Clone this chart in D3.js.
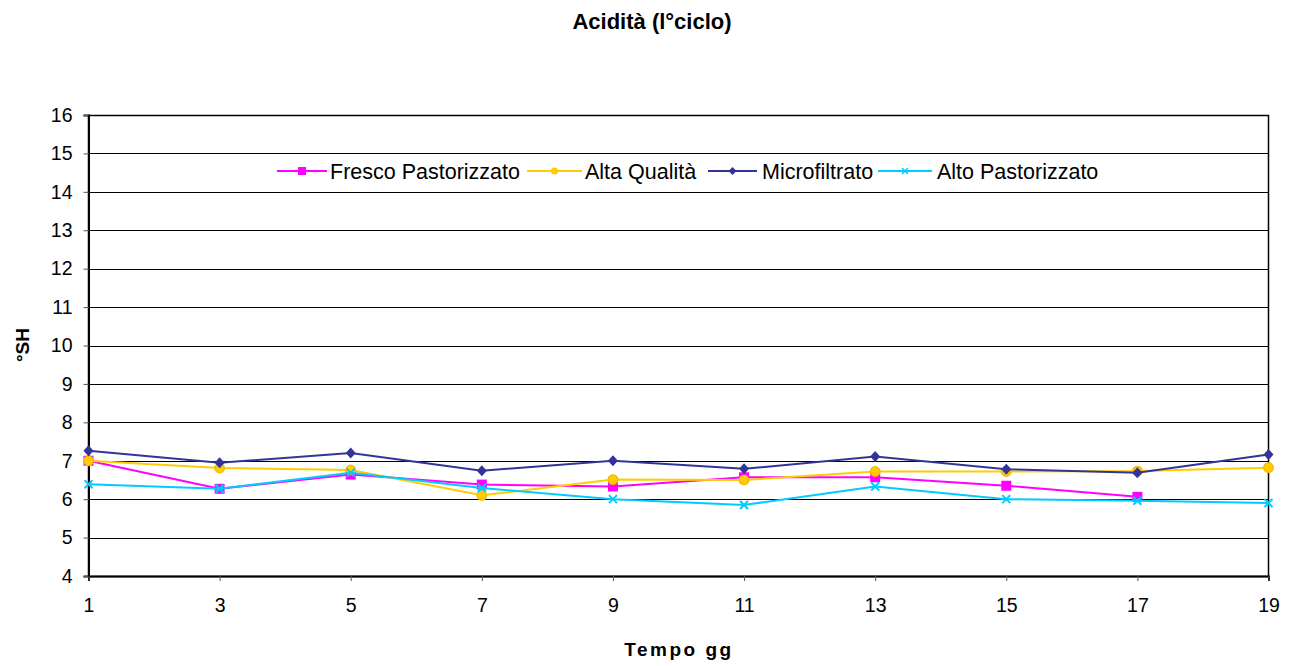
<!DOCTYPE html>
<html>
<head>
<meta charset="utf-8">
<script src="https://cdn.jsdelivr.net/npm/d3@7"></script>
<style>
  html, body { margin: 0; padding: 0; background: #fff; }
  svg { display: block; font-family: "Liberation Sans", Arial, sans-serif; }
</style>
</head>
<body>
<svg id="chart" width="1298" height="666"></svg>
<script>
const days = [1, 3, 5, 7, 9, 11, 13, 15, 17, 19];
const yTicks = [4, 5, 6, 7, 8, 9, 10, 11, 12, 13, 14, 15, 16];
const frescoPastorizzato = [7.0, 6.27, 6.64, 6.38, 6.33, 6.57, 6.57, 6.35, 6.06, null];
const altaQualita = [7.0, 6.81, 6.76, 6.1, 6.51, 6.5, 6.72, 6.72, 6.73, 6.82];
const microfiltrato = [7.26, 6.95, 7.2, 6.74, 7.0, 6.79, 7.11, 6.78, 6.69, 7.16];
const altoPastorizzato = [6.39, 6.27, 6.69, 6.29, 6.0, 5.85, 6.33, 6.0, 5.96, 5.9];
const seriesNames = ["Fresco Pastorizzato", "Alta Qualità", "Microfiltrato", "Alto Pastorizzato"];
const seriesColors = ["#ff00ff", "#ffcc00", "#333399", "#00ccff"];
const seriesSymbols = ["square", "circle", "diamond", "cross"];
const seriesValues = [frescoPastorizzato, altaQualita, microfiltrato, altoPastorizzato];

(function () {
const svg = d3.select("#chart");
const pLeft = 88.5, pRight = 1268.5, pTop = 115, pBottom = 576;

const x = d3.scaleLinear().domain([1, 19]).range([pLeft, pRight]);
const y = d3.scaleLinear().domain([4, 16]).range([pBottom, pTop]);

// gridlines
svg.append("g").selectAll("line").data(yTicks).join("line")
  .attr("x1", pLeft).attr("x2", pRight)
  .attr("y1", d => Math.round(y(d)) + 0.5).attr("y2", d => Math.round(y(d)) + 0.5)
  .attr("stroke", "#000").attr("stroke-width", 1);

// frame
svg.append("rect").attr("x", pLeft).attr("y", pTop + 0.5)
  .attr("width", pRight - pLeft).attr("height", pBottom - pTop)
  .attr("fill", "none").attr("stroke", "#000").attr("stroke-width", 1.5);

// axes
const yAxis = d3.axisLeft(y).tickValues(yTicks).tickSize(5).tickPadding(11).tickFormat(d3.format("d"));
const gy = svg.append("g").attr("transform", `translate(${pLeft},0)`).call(yAxis);
const xAxis = d3.axisBottom(x).tickValues(days).tickSize(5).tickPadding(17).tickFormat(d3.format("d"));
const gx = svg.append("g").attr("transform", `translate(0,${pBottom})`).call(xAxis);
[gy, gx].forEach(g => {
  g.attr("font-size", 19.5).attr("font-family", "'Liberation Sans', Arial, sans-serif");
  g.select(".domain").attr("stroke", "#000").attr("stroke-width", 2);
  g.selectAll(".tick line").attr("stroke", "#555");
  g.selectAll(".tick text").attr("fill", "#000").style("font-size", "19.5px");
});

// symbols
function drawMarker(g, type, color, cx, cy) {
  if (type === "square") {
    g.append("rect").attr("x", cx - 5).attr("y", cy - 5).attr("width", 10).attr("height", 10).attr("fill", color);
  } else if (type === "circle") {
    g.append("circle").attr("cx", cx).attr("cy", cy).attr("r", 4.8)
      .attr("fill", color).attr("stroke", "#f2b800").attr("stroke-width", 1.2);
  } else if (type === "diamond") {
    g.append("path").attr("d", `M${cx},${cy - 5.5}L${cx + 5},${cy}L${cx},${cy + 5.5}L${cx - 5},${cy}Z`).attr("fill", color);
  } else if (type === "cross") {
    g.append("path").attr("d", `M${cx - 4},${cy - 4}L${cx + 4},${cy + 4}M${cx + 4},${cy - 4}L${cx - 4},${cy + 4}`)
      .attr("stroke", color).attr("stroke-width", 2).attr("fill", "none");
  }
}

const line = d3.line().defined(d => d[1] != null).x(d => x(d[0])).y(d => y(d[1]));
seriesValues.forEach((vals, i) => {
  const pts = days.map((d, j) => [d, vals[j]]);
  const g = svg.append("g");
  g.append("path").datum(pts).attr("d", line)
    .attr("fill", "none").attr("stroke", seriesColors[i]).attr("stroke-width", 2);
  pts.filter(p => p[1] != null).forEach(p => drawMarker(g, seriesSymbols[i], seriesColors[i], x(p[0]), y(p[1])));
});

// legend
const lineStart = [277, 527, 708, 878];
const lineEnd = [327, 582, 757, 932];
const textStart = [330, 585, 762, 937];
const lg = svg.append("g");
lg.append("rect").attr("x", 270).attr("y", 156).attr("width", 840).attr("height", 32).attr("fill", "#fff");
seriesNames.forEach((name, i) => {
  const lx = lineStart[i], le = lineEnd[i], mx = (lx + le) / 2, ly = 171;
  const c = seriesColors[i];
  lg.append("line").attr("x1", lx).attr("x2", le).attr("y1", ly).attr("y2", ly)
    .attr("stroke", c).attr("stroke-width", 2);
  if (seriesSymbols[i] === "square") lg.append("rect").attr("x", mx - 4).attr("y", ly - 4).attr("width", 8).attr("height", 8).attr("fill", c);
  if (seriesSymbols[i] === "circle") lg.append("circle").attr("cx", mx).attr("cy", ly).attr("r", 3.5).attr("fill", c);
  if (seriesSymbols[i] === "diamond") lg.append("path").attr("d", `M${mx},${ly - 4}L${mx + 4},${ly}L${mx},${ly + 4}L${mx - 4},${ly}Z`).attr("fill", c);
  if (seriesSymbols[i] === "cross") lg.append("path").attr("d", `M${mx - 3},${ly - 3}L${mx + 3},${ly + 3}M${mx + 3},${ly - 3}L${mx - 3},${ly + 3}`).attr("stroke", c).attr("stroke-width", 1.5);
  lg.append("text").attr("x", textStart[i]).attr("y", ly + 7.5).text(name)
    .style("font-size", "21.5px").attr("fill", "#000");
});

// titles
svg.append("text").attr("x", 652).attr("y", 28.5).attr("text-anchor", "middle")
  .style("font-size", "22px").style("font-weight", "bold").text("Acidità (l°ciclo)");
svg.append("text").attr("transform", "translate(29,345) rotate(-90)").attr("text-anchor", "middle")
  .style("font-size", "19px").style("font-weight", "bold").text("°SH");
svg.append("text").attr("x", 679).attr("y", 656).attr("text-anchor", "middle")
  .style("font-size", "19px").style("font-weight", "bold").style("letter-spacing", "2.5px").text("Tempo gg");
})();
</script>
</body>
</html>
